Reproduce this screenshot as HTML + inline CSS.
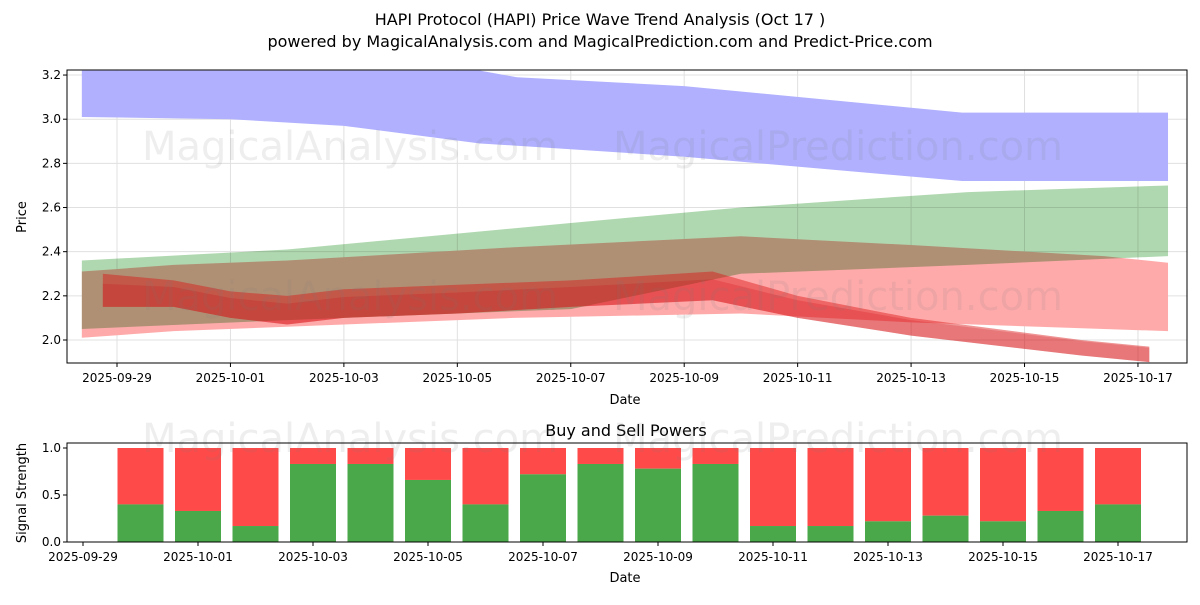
<!DOCTYPE html>
<html><head><meta charset="utf-8"><style>
body{margin:0;background:#fff;font-family:"Liberation Sans","DejaVu Sans",sans-serif}
text{font-family:"DejaVu Sans","Liberation Sans",sans-serif}
</style></head><body>
<svg id="c" width="1200" height="600" xmlns="http://www.w3.org/2000/svg">
<text x="600" y="25" font-size="16" text-anchor="middle">HAPI Protocol (HAPI) Price Wave Trend Analysis (Oct 17 )</text>
<text x="600" y="47" font-size="16" text-anchor="middle">powered by MagicalAnalysis.com and MagicalPrediction.com and Predict-Price.com</text>
<g id="topg"></g><g id="botg"></g>
</svg>
<script>
// ----- data -----
const priceTicks=[2.0,2.2,2.4,2.6,2.8,3.0,3.2];
const dateLabels=["2025-09-29","2025-10-01","2025-10-03","2025-10-05","2025-10-07","2025-10-09","2025-10-11","2025-10-13","2025-10-15","2025-10-17"];
const blueDays=[-0.62,2,4,6.4,7.05,10,14.9,18.53];
const blueUpper=[3.22,3.22,3.22,3.22,3.19,3.15,3.03,3.03];
const blueLower=[3.01,3.0,2.97,2.89,2.88,2.83,2.72,2.72];
const greenDays=[-0.62,3,8,11,15,18.53];
const greenUpper=[2.36,2.41,2.53,2.6,2.67,2.70];
const greenLower=[2.05,2.09,2.14,2.30,2.34,2.38];
const redDays=[-0.62,1,3,7,11,14,17.4,18.53];
const redUpper=[2.31,2.34,2.36,2.42,2.47,2.43,2.38,2.35];
const redLower=[2.01,2.04,2.06,2.10,2.12,2.08,2.05,2.04];
const coreDays=[-0.25,1,2,3,4,6,8,10.5,12,14,17,18.2];
const coreUpper=[2.30,2.27,2.22,2.20,2.23,2.25,2.27,2.31,2.20,2.10,2.00,1.97];
const coreLower=[2.15,2.15,2.10,2.07,2.10,2.12,2.15,2.18,2.10,2.02,1.93,1.90];
const barDays=[1,2,3,4,5,6,7,8,9,10,11,12,13,14,15,16,17,18];
const buyPower=[0.4,0.33,0.17,0.83,0.83,0.66,0.4,0.72,0.83,0.78,0.83,0.17,0.17,0.22,0.28,0.22,0.33,0.4];
const powerTicks=[0.0,0.5,1.0];
// ----- scales -----
const NS="http://www.w3.org/2000/svg";
const xT=d=>117+d*56.72, yT=v=>340-(v-2.0)*220.8;
const xB=d=>83+d*57.5, yB=v=>542-v*94;
function mk(tag,attrs,parent,txt){const e=document.createElementNS(NS,tag);for(const k in attrs)e.setAttribute(k,attrs[k]);if(txt!==undefined)e.textContent=txt;parent.appendChild(e);return e;}
const topG=document.getElementById('topg'), botG=document.getElementById('botg');
priceTicks.forEach(v=>{mk('line',{x1:67,x2:1187,y1:yT(v),y2:yT(v),stroke:'#e0e0e0'},topG);
 const t=mk('text',{x:61,y:yT(v)+4,'font-size':12,'text-anchor':'end'},topG,v.toFixed(1));
 
 });
dateLabels.forEach((s,i)=>{const x=xT(i*2);mk('line',{x1:x,x2:x,y1:70,y2:363,stroke:'#e0e0e0'},topG);
 mk('line',{x1:x,x2:x,y1:363,y2:367,stroke:'#000'},topG);
 const t=mk('text',{x:x,y:382,'font-size':12,'text-anchor':'middle'},topG,s);
 
 });
function band(days,up,lo,fill,name,extra){let p=days.map((d,i)=>xT(d)+','+yT(up[i]));
 for(let i=days.length-1;i>=0;i--)p.push(xT(days[i])+','+yT(lo[i]));
 const e=mk('polygon',Object.assign({points:p.join(' '),fill:fill},extra||{}),topG);
 
 return e;}
band(blueDays,blueUpper,blueLower,'#b0b0ff','blue-band');
band(redDays,redUpper,redLower,'#ffaaaa','red-band');
band(greenDays,greenUpper,greenLower,'#b0d8b0','green-band',{style:'mix-blend-mode:multiply'});
band(coreDays,coreUpper,coreLower,'rgba(220,20,20,0.45)','price-wave-core');
band(coreDays,coreUpper.map((v,i)=>(v+coreLower[i])/2+0.03),coreLower,'rgba(200,0,10,0.2)','price-wave-inner');
[[350,160],[838,160],[350,310],[838,310]].forEach((p,i)=>{const t=mk('text',{x:p[0],y:p[1],'font-size':40,'text-anchor':'middle',fill:'rgba(120,120,120,0.13)'},topG,i%2?'MagicalPrediction.com':'MagicalAnalysis.com');
 
 });
mk('rect',{x:67,y:70,width:1120,height:293,fill:'none',stroke:'#000'},topG);
priceTicks.forEach(v=>mk('line',{x1:63,x2:67,y1:yT(v),y2:yT(v),stroke:'#000'},topG));
let t=mk('text',{x:625,y:404,'font-size':13,'text-anchor':'middle'},topG,'Date');

t=mk('text',{x:26,y:217,'font-size':13,'text-anchor':'middle',transform:'rotate(-90 26 217)'},topG,'Price');

t=mk('text',{x:626,y:436,'font-size':16,'text-anchor':'middle'},botG,'Buy and Sell Powers');

barDays.forEach((d,i)=>{const x=xB(d)-23;
 const r=mk('rect',{x:x,y:yB(1),width:46,height:yB(buyPower[i])-yB(1),fill:'#ff4a4a'},botG);
 
 
 const g=mk('rect',{x:x,y:yB(buyPower[i]),width:46,height:yB(0)-yB(buyPower[i]),fill:'#4aa84a'},botG);
 
 });
[[350,452],[838,452]].forEach((p,i)=>{const w=mk('text',{x:p[0],y:p[1],'font-size':40,'text-anchor':'middle',fill:'rgba(120,120,120,0.13)'},botG,i?'MagicalPrediction.com':'MagicalAnalysis.com');
 
 });
mk('rect',{x:67,y:443,width:1120,height:99,fill:'none',stroke:'#000'},botG);
powerTicks.forEach(v=>{mk('line',{x1:63,x2:67,y1:yB(v),y2:yB(v),stroke:'#000'},botG);
 const l=mk('text',{x:61,y:yB(v)+4,'font-size':12,'text-anchor':'end'},botG,v.toFixed(1));
 
 });
dateLabels.forEach((s,i)=>{const x=xB(i*2);mk('line',{x1:x,x2:x,y1:542,y2:546,stroke:'#000'},botG);
 const l=mk('text',{x:x,y:561,'font-size':12,'text-anchor':'middle'},botG,s);
 
 });
t=mk('text',{x:625,y:582,'font-size':13,'text-anchor':'middle'},botG,'Date');

t=mk('text',{x:26,y:493,'font-size':13,'text-anchor':'middle',transform:'rotate(-90 26 493)'},botG,'Signal Strength');

</script>
</body></html>
